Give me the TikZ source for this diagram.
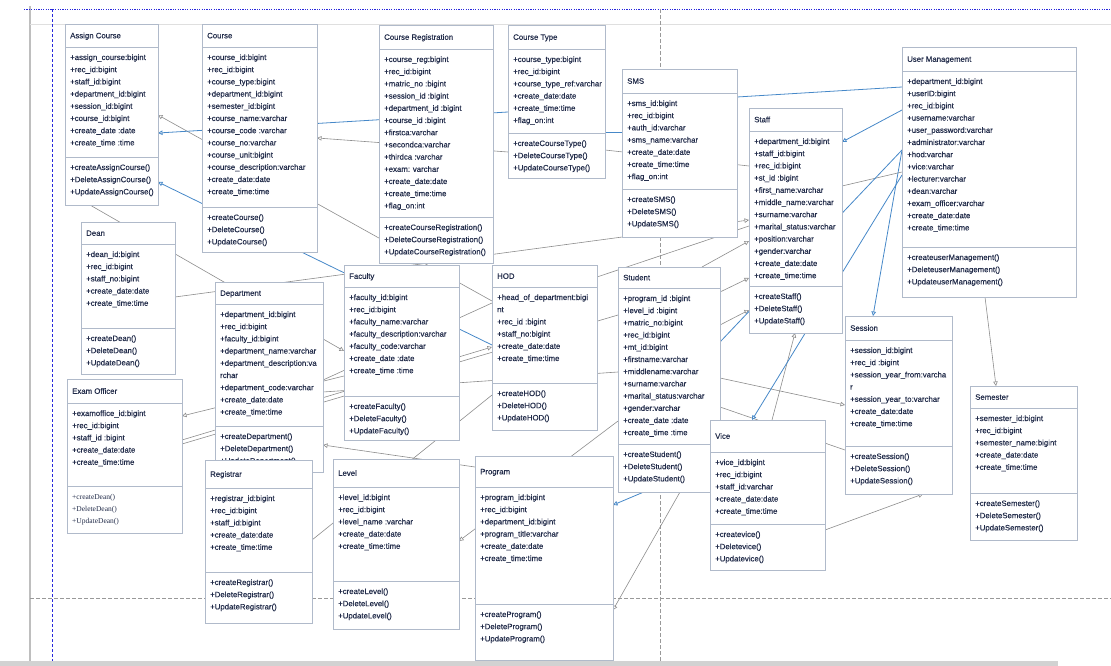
\documentclass[tikz,border=0pt]{standalone}
\usepackage{fontspec}
\setmainfont{Liberation Sans}
\newfontfamily\classfont{Liberation Sans}[FakeBold=0.4]
\newfontfamily\serifmeth{Liberation Serif}
\usetikzlibrary{arrows.meta}

\pgfdeclarelayer{links}
\pgfsetlayers{links,main}

\definecolor{boxline}{RGB}{176,186,202}
\definecolor{txt}{RGB}{34,44,74}
\definecolor{linkgrey}{RGB}{140,140,140}
\definecolor{linkblue}{RGB}{70,136,200}
\definecolor{framegrey}{RGB}{190,190,190}
\definecolor{frameblue}{RGB}{40,40,220}

\tikzset{
  classbox/.style={draw=boxline, line width=0.8pt, fill=white, inner sep=0pt, outer sep=0pt},
  classrule/.style={draw=boxline, line width=0.8pt},
  titletext/.style={text=txt, font=\classfont\fontsize{7.8}{9}\selectfont, inner sep=0pt},
  membertext/.style={text=txt, font=\classfont\fontsize{7.8}{9}\selectfont, inner sep=0pt},
  greylink/.style={draw=linkgrey, line width=0.6pt},
  bluelink/.style={draw=linkblue, line width=0.8pt},
  opentip/.style={-{Triangle[open,length=4.5pt,width=4.5pt]}},
}

% class box: name, left, top, right, title rule, operation rule, bottom, title
\newcommand\umlclass[8]{%
  \node[classbox, anchor=north west, minimum width={(#4-#2)*1pt},
        minimum height={(#7-#3)*1pt}] (#1) at (#2,#3) {};
  \draw[classrule] (#2,#5) -- (#4,#5);
  \draw[classrule] (#2,#6) -- (#4,#6);
  \node[titletext, anchor=base west] (#1-title) at ({#2+5},{(#3+#5)/2+2.8}) {#8};
}
% member lines: [style], prefix, left, rule above, list
\newcommand\umllines[5][]{%
  \foreach \entry [count=\k] in {#5} {
    \node[membertext, anchor=base west, #1] (#2-\k) at ({#3+5},{#4+13+(\k-1)*12.2}) {\entry};
  }
}

\begin{document}
\begin{tikzpicture}[x=1pt,y=-1pt]
\useasboundingbox (0,0) rectangle (1111,666);

% ---- classes
\umlclass{ac}{65}{24}{158}{47}{157}{205}{Assign Course}
\umllines{ac-a}{65}{47}{+assign\_course:bigint,+rec\_id:bigint,+staff\_id:bigint,+department\_id:bigint,+session\_id:bigint,+course\_id:bigint,+create\_date :date,+create\_time :time}
\umllines{ac-m}{65}{157}{+createAssignCourse(),+DeleteAssignCourse(),+UpdateAssignCourse()}

\umlclass{co}{202}{24}{317}{47}{207}{252}{Course}
\umllines{co-a}{202}{47}{+course\_id:bigint,+rec\_id:bigint,+course\_type:bigint,+department\_id:bigint,+semester\_id:bigint,+course\_name:varchar,+course\_code :varchar,+course\_no:varchar,+course\_unit:bigint,+course\_description:varchar,+create\_date:date,+create\_time:time}
\umllines{co-m}{202}{207}{+createCourse(),+DeleteCourse(),+UpdateCourse()}

\umlclass{cr}{379}{25}{493}{49}{217}{263}{Course Registration}
\umllines{cr-a}{379}{49}{+course\_reg:bigint,+rec\_id:bigint,+matric\_no :bigint,+session\_id :bigint,+department\_id :bigint,+course\_id :bigint,+firstca:varchar,+secondca:varchar,+thirdca :varchar,+exam: varchar,+create\_date:date,+create\_time:time,+flag\_on:int}
\umllines{cr-m}{379}{217}{+createCourseRegistration(),+DeleteCourseRegistration(),+UpdateCourseRegistration()}

\umlclass{ct}{508}{25}{605}{49}{133}{178}{Course Type}
\umllines{ct-a}{508}{49}{+course\_type:bigint,+rec\_id:bigint,+course\_type\_ref:varchar,+create\_date:date,+create\_time:time,+flag\_on:int}
\umllines{ct-m}{508}{133}{+createCourseType(),+DeleteCourseType(),+UpdateCourseType()}

\umlclass{sms}{622}{69}{737}{93}{189}{237}{SMS}
\umllines{sms-a}{622}{93}{+sms\_id:bigint,+rec\_id:bigint,+auth\_id:varchar,+sms\_name:varchar,+create\_date:date,+create\_time:time,+flag\_on:int}
\umllines{sms-m}{622}{189}{+createSMS(),+DeleteSMS(),+UpdateSMS()}

\umlclass{st}{749}{108}{842}{131}{286}{333}{Staff}
\umllines{st-a}{749}{131}{+department\_id:bigint,+staff\_id:bigint,+rec\_id:bigint,+st\_id :bigint,+first\_name:varchar,+middle\_name:varchar,+surname:varchar,+marital\_status:varchar,+position:varchar,+gender:varchar,+create\_date:date,+create\_time:time}
\umllines{st-m}{749}{286}{+createStaff(),+DeleteStaff(),+UpdateStaff()}

\umlclass{um}{902}{47}{1076}{71}{247}{297}{User Management}
\umllines{um-a}{902}{71}{+department\_id:bigint,+userID:bigint,+rec\_id:bigint,+username:varchar,+user\_password:varchar,+administrator:varchar,+hod:varchar,+vice:varchar,+lecturer:varchar,+dean:varchar,+exam\_officer:varchar,+create\_date:date,+create\_time:time}
\umllines{um-m}{902}{247}{+createuserManagement(),+DeleteuserManagement(),+UpdateuserManagement()}

\umlclass{dn}{81}{222}{175}{244}{328}{374}{Dean}
\umllines{dn-a}{81}{244}{+dean\_id:bigint,+rec\_id:bigint,+staff\_no:bigint,+create\_date:date,+create\_time:time}
\umllines{dn-m}{81}{328}{+createDean(),+DeleteDean(),+UpdateDean()}

\umlclass{dp}{215}{282}{323}{304}{426}{472}{Department}
\umllines{dp-a}{215}{304}{+department\_id:bigint,+rec\_id:bigint,+faculty\_id:bigint,+department\_name:varchar,+department\_description:va,rchar,+department\_code:varchar,+create\_date:date,+create\_time:time}
\umllines{dp-m}{215}{426}{+createDepartment(),+DeleteDepartment(),+UpdateDepartment()}

\umlclass{fa}{344}{265}{459}{287}{396}{440}{Faculty}
\umllines{fa-a}{344}{287}{+faculty\_id:bigint,+rec\_id:bigint,+faculty\_name:varchar,+faculty\_description:varchar,+faculty\_code:varchar,+create\_date :date,+create\_time :time}
\umllines{fa-m}{344}{396}{+createFaculty(),+DeleteFaculty(),+UpdateFaculty()}

\umlclass{hod}{492}{265}{597}{287}{383}{430}{HOD}
\umllines{hod-a}{492}{287}{+head\_of\_department:bigi,nt,+rec\_id :bigint,+staff\_no:bigint,+create\_date:date,+create\_time:time}
\umllines{hod-m}{492}{383}{+createHOD(),+DeleteHOD(),+UpdateHOD()}

\umlclass{stu}{618}{267}{720}{288}{444}{492}{Student}
\umllines{stu-a}{618}{288}{+program\_id :bigint,+level\_id :bigint,+matric\_no:bigint,+rec\_id:bigint,+mt\_id:bigint,+firstname:varchar,+middlename:varchar,+surname:varchar,+marital\_status:varchar,+gender:varchar,+create\_date :date,+create\_time :time}
\umllines{stu-m}{618}{444}{+createStudent(),+DeleteStudent(),+UpdateStudent()}

\umlclass{vi}{710}{420}{825}{452}{524}{570}{Vice}
\umllines{vi-a}{710}{452}{+vice\_id:bigint,+rec\_id:bigint,+staff\_id:varchar,+create\_date:date,+create\_time:time}
\umllines{vi-m}{710}{524}{+createvice(),+Deletevice(),+Updatevice()}

\umlclass{se}{845}{316}{952}{340}{446}{494}{Session}
\umllines{se-a}{845}{340}{+session\_id:bigint,+rec\_id :bigint,+session\_year\_from:varcha,r,+session\_year\_to:varchar,+create\_date:date,+create\_time:time}
\umllines{se-m}{845}{446}{+createSession(),+DeleteSession(),+UpdateSession()}

\umlclass{sm}{970}{386}{1077}{408}{493}{540}{Semester}
\umllines{sm-a}{970}{408}{+semester\_id:bigint,+rec\_id:bigint,+semester\_name:bigint,+create\_date:date,+create\_time:time}
\umllines{sm-m}{970}{493}{+createSemester(),+DeleteSemester(),+UpdateSemester()}

\umlclass{eo}{67}{379}{182}{403}{486}{533}{Exam Officer}
\umllines{eo-a}{67}{403}{+examoffice\_id:bigint,+rec\_id:bigint,+staff\_id :bigint,+create\_date:date,+create\_time:time}
\umllines[font={\serifmeth\fontsize{7.5}{9}\selectfont}]{eo-m}{67}{486}{+createDean(),+DeleteDean(),+UpdateDean()}

\umlclass{rg}{205}{460}{312}{488}{572}{623}{Registrar}
\umllines{rg-a}{205}{488}{+registrar\_id:bigint,+rec\_id:bigint,+staff\_id:bigint,+create\_date:date,+create\_time:time}
\umllines{rg-m}{205}{572}{+createRegistrar(),+DeleteRegistrar(),+UpdateRegistrar()}

\umlclass{lv}{333}{459}{459}{487}{581}{629}{Level}
\umllines{lv-a}{333}{487}{+level\_id:bigint,+rec\_id:bigint,+level\_name :varchar,+create\_date:date,+create\_time:time}
\umllines{lv-m}{333}{581}{+createLevel(),+DeleteLevel(),+UpdateLevel()}

\umlclass{pg}{475}{456}{613}{487}{604}{660}{Program}
\umllines{pg-a}{475}{487}{+program\_id:bigint,+rec\_id:bigint,+department\_id:bigint,+program\_title:varchar,+create\_date:date,+create\_time:time}
\umllines{pg-m}{475}{604}{+createProgram(),+DeleteProgram(),+UpdateProgram()}

\begin{pgfonlayer}{links}
% page frame and guides
\fill[framegrey!70] (0,661) rectangle (1058,666);
\draw[framegrey, line width=1.2pt] (30,6) -- (30,661);
\draw[gray!25, line width=0.6pt] (30,24) -- (1111,24);
\draw[frameblue, dash pattern=on 1.2pt off 1.2pt, line width=0.8pt] (24,9) -- (1111,9);
\draw[frameblue, dash pattern=on 3pt off 2pt, line width=0.8pt] (52,9) -- (52,661);
\draw[gray!80, dash pattern=on 4pt off 2pt, line width=0.6pt] (660,9) -- (660,661);
\draw[gray!80, dash pattern=on 4pt off 2pt, line width=0.6pt] (30,598) -- (1111,598);

% grey associations
\draw[greylink, opentip] (hod.west |- 0,301) -- (ac.east |- 0,115);
\draw[greylink, opentip] (90,0 |- ac.south) -- (fa.west |- 0,351);
\draw[greylink, opentip] (dn.east |- 0,297) -- (st.west |- 0,220);
\draw[greylink, opentip] (ct.west |- 0,152) -- (co.east |- 0,138);
\draw[greylink] (ct.east |- 0,150) -- (st.west |- 0,166);
\draw[greylink, opentip] (fa.west |- 0,376) -- (eo.east |- 0,416);
\draw[greylink, opentip] (eo.east |- 0,440) -- (hod.west |- 0,347);
\draw[greylink] (eo.east |- 0,444) -- (stu.west |- 0,315);
\draw[greylink, opentip] (pg.west |- 0,467) -- (dp.east |- 0,445);
\draw[greylink, opentip] (stu.west |- 0,421) -- (lv.east |- 0,541);
\draw[greylink] (rg.east |- 0,540) -- (hod.west |- 0,395);
\draw[greylink, opentip] (680,0 |- stu.south) -- (pg.east |- 0,610);
\draw[greylink, opentip] (985,0 |- um.south) -- (996,0 |- sm.north);
\draw[greylink, opentip] (772,0 |- vi.north) -- (795,0 |- st.south);
\draw[greylink, opentip] (stu.east |- 0,292) -- (st.west |- 0,278);
\draw[greylink, opentip] (stu.east |- 0,325) -- (st.west |- 0,310);
\draw[greylink] (hod.east |- 0,277) -- (st.west |- 0,226);
\draw[greylink, opentip] (702,0 |- stu.north) -- (st.west |- 0,241);
\draw[greylink, opentip] (stu.east |- 0,378) -- (se.west |- 0,405);
\draw[greylink] (stu.east |- 0,407) -- (se.west |- 0,450);
\draw[greylink] (dp.east |- 0,380) -- (hod.west |- 0,303);
\draw[greylink] (dp.east |- 0,392) -- (stu.west |- 0,372);
\draw[greylink, opentip] (vi.east |- 0,530) -- (923,0 |- se.south);
\draw[greylink] (st.east |- 0,186) -- (um.west |- 0,172);

% blue associations
\draw[bluelink, opentip] (ct.west |- 0,112) -- (ac.east |- 0,133);
\draw[bluelink, opentip] (hod.west |- 0,345) -- (ac.east |- 0,182);
\draw[bluelink] (sms.east |- 0,97) -- (um.west |- 0,87);
\draw[bluelink, opentip] (um.west |- 0,110) -- (st.east |- 0,142);
\draw[bluelink] (um.west |- 0,150) -- (stu.east |- 0,342);
\draw[bluelink, opentip] (um.west |- 0,175) -- (752,0 |- vi.north);
\draw[bluelink, opentip] (um.west |- 0,150) -- (873,0 |- se.north);
\draw[bluelink, opentip] (vi.west |- 0,464) -- (pg.east |- 0,505);
\draw[bluelink] (ct.east |- 0,132) -- (sms.west |- 0,132);
\end{pgfonlayer}

\end{tikzpicture}
\end{document}
